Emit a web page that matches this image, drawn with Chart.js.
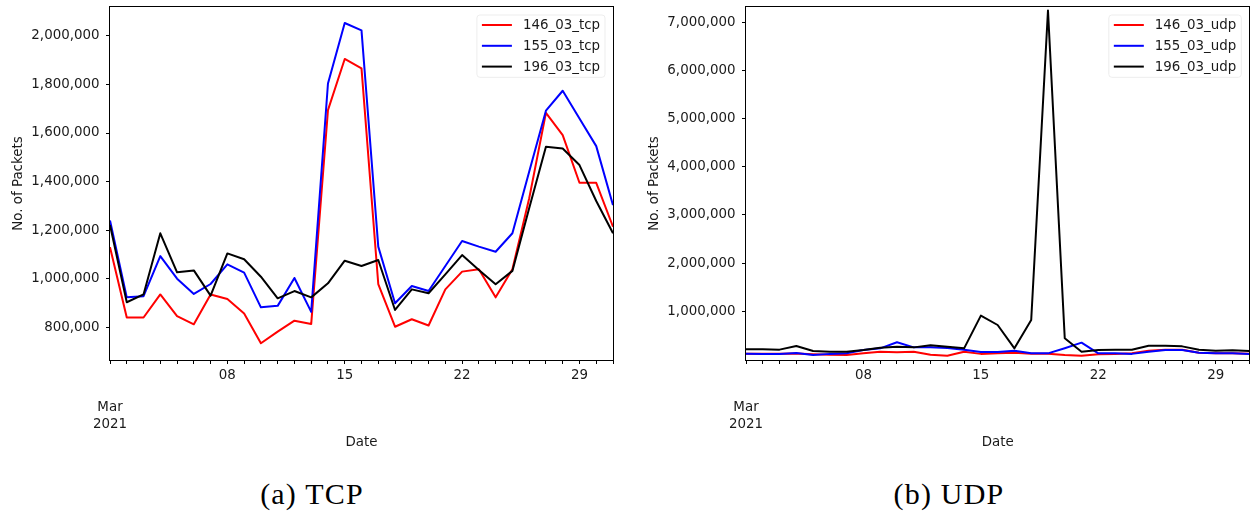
<!DOCTYPE html>
<html>
<head>
<meta charset="utf-8">
<script src="https://cdn.jsdelivr.net/npm/chart.js@4.4.1/dist/chart.umd.min.js"></script>
<style>
  html, body { margin: 0; padding: 0; background: #fff; }
  #wrap { position: relative; width: 1257px; height: 515px; overflow: hidden; background: #fff; }
  canvas { position: absolute; top: 0; }
  #tcpChart { left: 0; }
  #udpChart { left: 630px; }
  .caption {
    position: absolute; top: 479px;
    font-family: "Liberation Serif", serif; font-size: 30px; line-height: 30px;
    letter-spacing: 1.2px; color: #000; white-space: nowrap;
    transform: translateX(-50%);
  }
</style>
</head>
<body>
<div id="wrap">
  <canvas id="tcpChart" width="630" height="470"></canvas>
  <canvas id="udpChart" width="627" height="470"></canvas>
  <div class="caption" style="left:312px">(a) TCP</div>
  <div class="caption" style="left:949px">(b) UDP</div>
</div>
<script>
// Days of March 2021
const days = [1, 2, 3, 4, 5, 6, 7, 8, 9, 10, 11, 12, 13, 14, 15, 16,
              17, 18, 19, 20, 21, 22, 23, 24, 25, 26, 27, 28, 29, 30, 31];
const majorTickDays = [8, 15, 22, 29];
const majorTickLabels = ['08', '15', '22', '29'];
const monthLabel = ['Mar', '2021'];

const tcpYTicks = [800000, 1000000, 1200000, 1400000, 1600000, 1800000, 2000000];
const udpYTicks = [1000000, 2000000, 3000000, 4000000, 5000000, 6000000, 7000000];

const tcpLabels = ['146_03_tcp', '155_03_tcp', '196_03_tcp'];
const udpLabels = ['146_03_udp', '155_03_udp', '196_03_udp'];

// Daily TCP packet counts per host
const tcp146 = [1130000, 840000, 840000, 935000, 846000, 812000, 935000, 916000, 857000, 734000,
                782000, 827000, 813000, 1694000, 1905000, 1866000, 978000, 802000, 833000, 807000,
                956000, 1029000, 1039000, 923000, 1039000, 1330000, 1683000, 1591000, 1395000, 1395000,
                1214000];
const tcp155 = [1240000, 923000, 928000, 1093000, 1000000, 937000, 978000, 1059000, 1025000, 882000,
                888000, 1003000, 863000, 1804000, 2053000, 2023000, 1132000, 899000, 970000, 949000,
                1052000, 1155000, 1132000, 1111000, 1187000, 1440000, 1692000, 1774000, 1660000, 1546000,
                1303000];
const tcp196 = [1221000, 903000, 935000, 1187000, 1026000, 1034000, 930000, 1104000, 1080000, 1008000,
                919000, 949000, 923000, 981000, 1074000, 1052000, 1077000, 871000, 956000, 940000,
                1018000, 1097000, 1036000, 977000, 1032000, 1290000, 1543000, 1536000, 1468000, 1320000,
                1187000];

// Daily UDP packet counts per host
const udp146 = [120000, 118000, 118000, 125000, 110000, 100000, 93000, 128000, 163000, 149000,
                160000, 100000, 79000, 163000, 117000, 128000, 142000, 121000, 121000, 93000,
                79000, 107000, 117000, 128000, 183000, 204000, 204000, 142000, 128000, 128000,
                121000];
const udp155 = [120000, 117000, 117000, 135000, 93000, 117000, 128000, 197000, 232000, 357000,
                252000, 252000, 240000, 204000, 156000, 156000, 183000, 128000, 128000, 235000,
                350000, 128000, 128000, 117000, 163000, 197000, 197000, 142000, 128000, 128000,
                117000];
const udp196 = [212000, 212000, 205000, 280000, 176000, 163000, 163000, 197000, 245000, 266000,
                252000, 295000, 266000, 232000, 910000, 716000, 232000, 820000, 7240000, 440000,
                162000, 197000, 204000, 204000, 287000, 287000, 273000, 204000, 183000, 190000,
                176000];

const seriesColors = ['#ff0000', '#0000ff', '#000000'];

const FONT = '"DejaVu Sans", sans-serif';
const FONT_SIZE = 13.4;
const TEXT = '#1a1a1a';

// Axes frame on all four sides plus an in-plot legend in the upper right corner
const frameLegend = {
  id: 'frameLegend',
  afterDraw(chart) {
    const { ctx, chartArea: a } = chart;
    ctx.save();
    ctx.strokeStyle = '#000';
    ctx.lineWidth = 1;
    ctx.strokeRect(Math.round(a.left) - 0.5, Math.round(a.top) - 0.5,
                   Math.round(a.right - a.left) + 1, Math.round(a.bottom - a.top) + 1);

    const sets = chart.data.datasets;
    ctx.font = FONT_SIZE + 'px ' + FONT;
    const textW = Math.max(...sets.map(d => ctx.measureText(d.label).width));
    const boxW = 46 + textW + 5;
    const boxH = 62.3;
    const right = a.right - 8;
    const top = a.top + 8;
    const left = right - boxW;
    ctx.beginPath();
    ctx.roundRect(left, top, boxW, boxH, 3);
    ctx.fillStyle = 'rgba(255,255,255,0.85)';
    ctx.fill();
    ctx.strokeStyle = '#ededed';
    ctx.stroke();
    sets.forEach((d, i) => {
      const y = top + 10 + i * 20.8;
      ctx.beginPath();
      ctx.moveTo(left + 5, y);
      ctx.lineTo(left + 35, y);
      ctx.lineWidth = 2;
      ctx.strokeStyle = d.borderColor;
      ctx.stroke();
      ctx.fillStyle = TEXT;
      ctx.textBaseline = 'middle';
      ctx.textAlign = 'left';
      ctx.fillText(d.label, left + 46, y + 0.5);
    });
    ctx.restore();
  }
};

function makeChart(id, labels, series, yTicks, yMin, yMax, yAxisWidth, yTitlePad, rightPad) {
  const datasets = series.map((vals, i) => ({
    label: labels[i],
    data: days.map((d, k) => ({ x: d, y: vals[k] })),
    borderColor: seriesColors[i],
    backgroundColor: seriesColors[i],
    borderWidth: 2,
    borderJoinStyle: 'round',
    pointRadius: 0,
    tension: 0,
    fill: false,
    order: series.length - i
  }));
  const tickFont = { family: FONT, size: FONT_SIZE, lineHeight: 1.22 };
  return new Chart(document.getElementById(id), {
    type: 'line',
    data: { datasets },
    plugins: [frameLegend],
    options: {
      responsive: false,
      animation: false,
      events: [],
      layout: { padding: { top: 7, right: rightPad, bottom: 0, left: 0 } },
      plugins: { legend: { display: false }, tooltip: { enabled: false } },
      scales: {
        x: {
          type: 'linear', min: 1, max: 31,
          afterBuildTicks: s => { s.ticks = days.map(v => ({ value: v })); },
          afterFit: s => { s.height = 110; s.paddingLeft = 0; s.paddingRight = 0; },
          grid: { display: true, drawOnChartArea: false, drawTicks: true, tickLength: 4,
                  tickColor: '#000', color: '#000', tickWidth: 1 },
          border: { display: false },
          ticks: {
            autoSkip: false, maxRotation: 0, minRotation: 0, padding: 3,
            color: TEXT, font: tickFont,
            callback: v => {
              const k = majorTickDays.indexOf(v);
              if (k >= 0) return majorTickLabels[k];
              // month and year sit two lines below the day labels
              if (v === days[0]) return ['', ''].concat(monthLabel);
              return '';
            }
          },
          title: { display: true, text: 'Date', color: TEXT,
                   font: { family: FONT, size: FONT_SIZE }, padding: { top: 0, bottom: 19.5 } }
        },
        y: {
          type: 'linear', min: yMin, max: yMax,
          afterBuildTicks: s => { s.ticks = yTicks.map(v => ({ value: v })); },
          afterFit: s => { s.width = yAxisWidth; s.paddingTop = 0; s.paddingBottom = 0; },
          grid: { display: true, drawOnChartArea: false, drawTicks: true, tickLength: 4,
                  tickColor: '#000', color: '#000', tickWidth: 1 },
          border: { display: false },
          ticks: { padding: 6.5, color: TEXT, font: tickFont,
                   callback: v => v.toLocaleString('en-US') },
          title: { display: true, text: 'No. of Packets', color: TEXT,
                   font: { family: FONT, size: FONT_SIZE }, padding: { top: yTitlePad, bottom: 0 } }
        }
      }
    }
  });
}

makeChart('tcpChart', tcpLabels, [tcp146, tcp155, tcp196], tcpYTicks, 665000, 2119000, 110, 10, 17);
makeChart('udpChart', udpLabels, [udp146, udp155, udp196], udpYTicks, -10000, 7312000, 116, 16, 7.7);
</script>
</body>
</html>
